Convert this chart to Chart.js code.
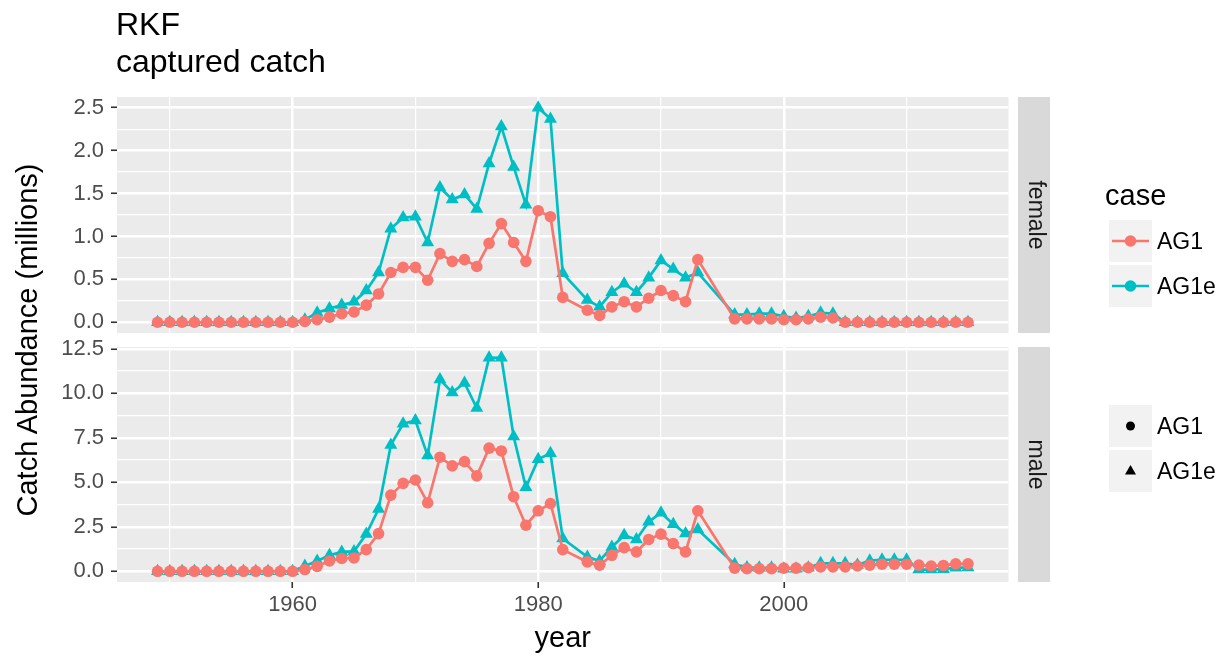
<!DOCTYPE html>
<html>
<head>
<meta charset="utf-8">
<title>RKF captured catch</title>
<script src="https://cdn.jsdelivr.net/npm/chart.js@4.4.1/dist/chart.umd.min.js"></script>
<style>
  html, body { margin: 0; padding: 0; background: #ffffff; }
  body { position: relative; width: 1228px; height: 657px; overflow: hidden; }
  canvas { position: absolute; left: 0; }
  svg { position: absolute; left: 0; top: 0; pointer-events: none; font-family: "Liberation Sans", Arial, Helvetica, sans-serif; }
</style>
</head>
<body>
<canvas id="female" width="1016" height="256" style="top:87px"></canvas>
<canvas id="male" width="1016" height="320" style="top:337px"></canvas>
<svg width="1228" height="657">
  <text x="116" y="35" font-size="32" fill="#000">RKF</text>
  <text x="116" y="72" font-size="32" fill="#000">captured catch</text>
  <text transform="translate(37,340) rotate(-90)" text-anchor="middle" font-size="29" fill="#000">Catch Abundance (millions)</text>

  <rect x="1018" y="97" width="32" height="236" fill="#D9D9D9"/>
  <rect x="1018" y="347" width="32" height="235" fill="#D9D9D9"/>
  <text transform="translate(1028.5,215) rotate(90)" text-anchor="middle" font-size="23" fill="#1A1A1A">female</text>
  <text transform="translate(1028.5,464.5) rotate(90)" text-anchor="middle" font-size="23" fill="#1A1A1A">male</text>

  <text x="1105" y="205" font-size="29" fill="#000">case</text>
  <rect x="1109" y="220" width="43" height="42" fill="#F2F2F2"/>
  <line x1="1112" y1="241" x2="1149" y2="241" stroke="#F8766D" stroke-width="2.7"/>
  <circle cx="1130.5" cy="241" r="5.8" fill="#F8766D"/>
  <text x="1157" y="249" font-size="23" fill="#000">AG1</text>
  <rect x="1109" y="265" width="43" height="42" fill="#F2F2F2"/>
  <line x1="1112" y1="286" x2="1149" y2="286" stroke="#00BFC4" stroke-width="2.7"/>
  <circle cx="1130.5" cy="286" r="5.8" fill="#00BFC4"/>
  <text x="1157" y="294" font-size="23" fill="#000">AG1e</text>

  <rect x="1109" y="405" width="43" height="42" fill="#F2F2F2"/>
  <circle cx="1130.5" cy="426" r="4.5" fill="#000"/>
  <text x="1157" y="434" font-size="23" fill="#000">AG1</text>
  <rect x="1109" y="450" width="43" height="42" fill="#F2F2F2"/>
  <polygon points="1130.5,465 1125,474.5 1136,474.5" fill="#000"/>
  <text x="1157" y="479" font-size="23" fill="#000">AG1e</text>
</svg>
<script>
// years with a record (no rows for 1983, 1994, 1995)
const years = [
  1949, 1950, 1951, 1952, 1953, 1954, 1955, 1956, 1957, 1958, 1959, 1960,
  1961, 1962, 1963, 1964, 1965, 1966, 1967, 1968, 1969, 1970,
  1971, 1972, 1973, 1974, 1975, 1976, 1977, 1978, 1979, 1980, 1981, 1982,
  1984, 1985, 1986, 1987, 1988, 1989, 1990, 1991, 1992, 1993,
  1996, 1997, 1998, 1999, 2000, 2001, 2002, 2003, 2004, 2005,
  2006, 2007, 2008, 2009, 2010, 2011, 2012, 2013, 2014, 2015
];

const femaleAG1 = [
  0, 0, 0, 0, 0, 0, 0, 0, 0, 0, 0, 0,
  0.01, 0.03, 0.06, 0.10, 0.12, 0.20, 0.33, 0.58, 0.64, 0.64,
  0.49, 0.80, 0.71, 0.73, 0.65, 0.92, 1.15, 0.93, 0.71, 1.30, 1.23, 0.29,
  0.14, 0.08, 0.18, 0.24, 0.18, 0.28, 0.37, 0.31, 0.24, 0.73,
  0.04, 0.04, 0.04, 0.04, 0.03, 0.03, 0.04, 0.06, 0.05, 0,
  0, 0, 0, 0, 0, 0, 0, 0, 0, 0
];
const femaleAG1e = [
  0, 0, 0, 0, 0, 0, 0, 0, 0, 0, 0, 0,
  0.03, 0.11, 0.16, 0.20, 0.24, 0.37, 0.58, 1.09, 1.22, 1.23,
  0.93, 1.57, 1.43, 1.49, 1.32, 1.85, 2.28, 1.81, 1.37, 2.50, 2.37, 0.57,
  0.26, 0.18, 0.35, 0.45, 0.35, 0.52, 0.72, 0.62, 0.52, 0.58,
  0.09, 0.09, 0.10, 0.10, 0.07, 0.05, 0.07, 0.11, 0.10, 0,
  0, 0, 0, 0, 0, 0, 0, 0, 0, 0
];
const maleAG1 = [
  0, 0, 0, 0, 0, 0, 0, 0, 0, 0, 0, 0,
  0.10, 0.28, 0.58, 0.72, 0.75, 1.22, 2.12, 4.28, 4.94, 5.13,
  3.85, 6.41, 5.92, 6.16, 5.36, 6.92, 6.76, 4.19, 2.59, 3.40, 3.81, 1.22,
  0.53, 0.34, 0.90, 1.33, 1.09, 1.79, 2.09, 1.56, 1.09, 3.40,
  0.18, 0.15, 0.15, 0.15, 0.18, 0.18, 0.20, 0.25, 0.25, 0.25,
  0.30, 0.35, 0.40, 0.40, 0.40, 0.35, 0.30, 0.33, 0.42, 0.42
];
const maleAG1e = [
  0, 0, 0, 0, 0, 0, 0, 0, 0, 0, 0, 0,
  0.30, 0.58, 0.90, 1.09, 1.12, 2.09, 3.50, 7.10, 8.29, 8.47,
  6.50, 10.77, 10.05, 10.58, 9.17, 11.99, 12.00, 7.57, 4.72, 6.29, 6.63, 1.84,
  0.81, 0.58, 1.37, 2.03, 1.79, 2.78, 3.29, 2.65, 2.12, 2.35,
  0.40, 0.22, 0.20, 0.20, 0.15, 0.15, 0.20, 0.45, 0.45, 0.45,
  0.35, 0.60, 0.65, 0.65, 0.65, 0.10, 0.10, 0.12, 0.20, 0.22
];

const femaleTicks = [0, 0.5, 1, 1.5, 2, 2.5];
const maleTicks = [0, 2.5, 5, 7.5, 10, 12.5];
const yearTicks = [1960, 1980, 2000];

const RED = '#F8766D';
const TEAL = '#00BFC4';
const FONT = '"Liberation Sans", Arial, Helvetica, sans-serif';

const panelBackground = {
  id: 'panelBackground',
  beforeDraw(chart) {
    const { ctx, chartArea: a } = chart;
    ctx.save();
    ctx.fillStyle = '#EBEBEB';
    ctx.fillRect(a.left, a.top, a.right - a.left, a.bottom - a.top);
    ctx.restore();
  }
};

// majors plus the half-way minor breaks, kept inside the panel range
function withMinors(majors, lo, hi) {
  const step = majors[1] - majors[0];
  const all = majors.concat(majors.map((v) => v - step / 2), [majors[majors.length - 1] + step / 2]);
  return all.filter((v) => v >= lo && v <= hi).sort((a, b) => a - b);
}

function toXY(vals) {
  return years.map((yr, i) => ({ x: yr, y: vals[i] }));
}

function makePanel(id, ag1, ag1e, yMajors, showX) {
  const canvas = document.getElementById(id);
  const xPad = (years[years.length - 1] - years[0]) * 0.05;
  const xMin = years[0] - xPad;
  const xMax = years[years.length - 1] + xPad;
  const top = Math.max(...ag1, ...ag1e);
  const yMin = -top * 0.05;
  const yMax = top * 1.05;
  const xAll = withMinors(yearTicks, xMin, xMax);
  const yAll = withMinors(yMajors, yMin, yMax);

  const isMajorX = (c) => c.tick && yearTicks.includes(c.tick.value);
  const isMajorY = (c) => c.tick && yMajors.includes(c.tick.value);

  return new Chart(canvas, {
    type: 'line',
    data: {
      datasets: [
        {
          label: 'AG1',
          data: toXY(ag1),
          borderColor: RED,
          backgroundColor: RED,
          borderWidth: 2.7,
          pointStyle: 'circle',
          pointRadius: 5.8,
          pointBorderWidth: 0,
          pointBackgroundColor: RED,
        },
        {
          label: 'AG1e',
          data: toXY(ag1e),
          borderColor: TEAL,
          backgroundColor: TEAL,
          borderWidth: 2.7,
          pointStyle: 'triangle',
          pointRadius: 7.5,
          pointBorderWidth: 0,
          pointBackgroundColor: TEAL,
        },
      ],
    },
    options: {
      responsive: false,
      animation: false,
      devicePixelRatio: 1,
      events: [],
      layout: { padding: { top: 10, bottom: showX ? 0 : 10, left: 0, right: 0 } },
      plugins: { legend: { display: false }, tooltip: { enabled: false } },
      scales: {
        x: {
          type: 'linear',
          min: xMin,
          max: xMax,
          afterBuildTicks: (s) => { s.ticks = xAll.map((v) => ({ value: v })); },
          afterFit: (s) => { s.height = showX ? 75 : 0; s.paddingLeft = 0; s.paddingRight = 0; },
          border: { display: false },
          grid: {
            color: '#FFFFFF',
            lineWidth: (c) => (isMajorX(c) ? 2.5 : 1.2),
            drawTicks: showX,
            tickLength: 6,
            tickWidth: 1.6,
            tickColor: (c) => (isMajorX(c) ? '#333333' : 'rgba(0,0,0,0)'),
          },
          ticks: {
            display: showX,
            autoSkip: false,
            maxRotation: 0,
            padding: 4,
            color: '#4D4D4D',
            font: { family: FONT, size: 22 },
            callback: (v) => (yearTicks.includes(v) ? String(v) : ''),
          },
          title: {
            display: showX,
            text: 'year',
            color: '#000000',
            font: { family: FONT, size: 29 },
            padding: { top: 0, bottom: 1 },
          },
        },
        y: {
          type: 'linear',
          min: yMin,
          max: yMax,
          afterBuildTicks: (s) => { s.ticks = yAll.map((v) => ({ value: v })); },
          afterFit: (s) => { s.width = 117; s.paddingTop = 0; s.paddingBottom = 0; },
          border: { display: false },
          grid: {
            color: '#FFFFFF',
            lineWidth: (c) => (isMajorY(c) ? 2.5 : 1.2),
            tickLength: 6,
            tickWidth: 1.6,
            tickColor: (c) => (isMajorY(c) ? '#333333' : 'rgba(0,0,0,0)'),
          },
          ticks: {
            autoSkip: false,
            padding: 7,
            color: '#4D4D4D',
            font: { family: FONT, size: 22 },
            callback: (v) => (yMajors.includes(v) ? v.toFixed(1) : ''),
          },
        },
      },
    },
    plugins: [panelBackground],
  });
}

makePanel('female', femaleAG1, femaleAG1e, femaleTicks, false);
makePanel('male', maleAG1, maleAG1e, maleTicks, true);
</script>
</body>
</html>
